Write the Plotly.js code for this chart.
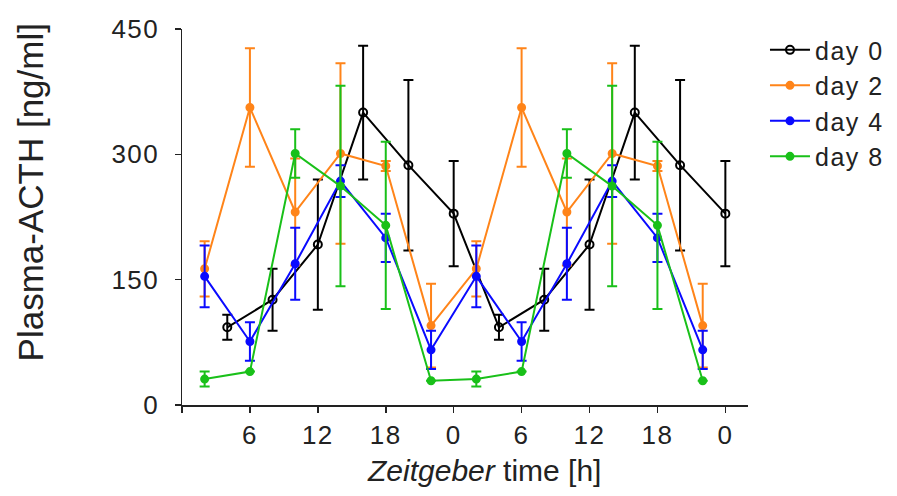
<!DOCTYPE html>
<html>
<head>
<meta charset="utf-8">
<script src="https://cdn.plot.ly/plotly-3.0.1.min.js"></script>
<style>
  html, body { margin: 0; padding: 0; background: #fff; }
  #chart { width: 897px; height: 496px; }
  /* slightly wider lettering for tick labels and legend entries */
  #chart .xtick text, #chart .ytick text, #chart text.legendtext { letter-spacing: 1.5px; }
</style>
</head>
<body>
<div id="chart"></div>
<script>
// Plasma ACTH over Zeitgeber time, double-plotted (two consecutive cycles)
const tickVals = [0, 6, 12, 18, 24, 30, 36, 42, 48];
const tickText = ['', '6', '12', '18', '0', '6', '12', '18', '0'];
const yTickVals = [0, 150, 300, 450];

// day 0
const day0Time = [4, 8, 12, 16, 20, 24, 28, 32, 36, 40, 44, 48];
const day0Mean = [93, 126, 192, 350, 287, 229, 93, 126, 192, 350, 287, 229];
const day0Err  = [15, 37, 78, 80, 102, 63, 15, 37, 78, 80, 102, 63];

// day 2
const day2Time = [2, 6, 10, 14, 18, 22, 26, 30, 34, 38, 42, 46];
const day2Mean = [163, 356, 231, 301, 286, 95, 163, 356, 231, 301, 286, 95];
const day2Err  = [33, 71, 64, 108, 6, 50, 33, 71, 64, 108, 6, 50];

// day 4
const day4Time = [2, 6, 10, 14, 18, 22, 26, 30, 34, 38, 42, 46];
const day4Mean = [154, 76, 169, 268, 200, 66, 154, 76, 169, 268, 200, 66];
const day4Err  = [37, 23, 43, 19, 29, 23, 37, 23, 43, 19, 29, 23];

// day 8
const day8Time = [2, 6, 10, 14, 18, 22, 26, 30, 34, 38, 42, 46];
const day8Mean = [31, 40, 301, 262, 215, 29, 31, 40, 301, 262, 215, 29];
const day8Err  = [9, 0, 29, 120, 100, 0, 9, 0, 29, 120, 100, 0];

const FONT = 'Liberation Sans, Arial, sans-serif';
const TEXT = '#222';

function series(name, x, y, err, color, symbol) {
  return {
    type: 'scatter', mode: 'lines+markers', name: name,
    x: x, y: y,
    line: { color: color, width: 2 },
    marker: {
      color: color, size: symbol === 'circle-open' ? 8 : 7, symbol: symbol,
      line: { color: color, width: 2 }
    },
    error_y: { type: 'data', array: err, visible: true, color: color, thickness: 2, width: 5 }
  };
}

const traces = [
  series('day 0', day0Time, day0Mean, day0Err, '#000000', 'circle-open'),
  series('day 2', day2Time, day2Mean, day2Err, '#ff8419', 'circle'),
  series('day 4', day4Time, day4Mean, day4Err, '#0a0aff', 'circle'),
  series('day 8', day8Time, day8Mean, day8Err, '#19c019', 'circle')
];

const layout = {
  width: 897, height: 496,
  margin: { l: 182, r: 149, t: 29, b: 91 },
  paper_bgcolor: '#fff', plot_bgcolor: '#fff',
  font: { family: FONT, color: TEXT, size: 26 },
  showlegend: true,
  legend: {
    x: 1.03, xanchor: 'left', y: 1.005, yanchor: 'top',
    font: { family: FONT, size: 25, color: TEXT },
    bgcolor: 'rgba(0,0,0,0)', itemwidth: 40, tracegroupgap: 0
  },
  xaxis: {
    range: [0, 50], tickvals: tickVals, ticktext: tickText,
    showgrid: false, zeroline: false,
    showline: true, linecolor: TEXT, linewidth: 1.5,
    ticks: 'outside', ticklen: 6, tickwidth: 1.5, tickcolor: TEXT,
    tickfont: { family: FONT, size: 26, color: TEXT }
  },
  yaxis: {
    range: [0, 450], tickvals: yTickVals,
    showgrid: false, zeroline: false,
    showline: true, linecolor: TEXT, linewidth: 1.5,
    ticks: 'outside', ticklen: 6, tickwidth: 1.5, tickcolor: TEXT,
    ticklabelstandoff: 10,
    tickfont: { family: FONT, size: 26, color: TEXT }
  },
  annotations: [
    {
      text: '<i>Zeitgeber</i> time [h]', xref: 'paper', yref: 'paper',
      x: 0.533, y: -0.173, xanchor: 'center', yanchor: 'middle', showarrow: false,
      font: { family: FONT, size: 30, color: TEXT }
    },
    {
      text: 'Plasma-ACTH [ng/ml]', xref: 'paper', yref: 'paper', textangle: -90,
      x: -0.267, y: 0.565, xanchor: 'center', yanchor: 'middle', showarrow: false,
      font: { family: FONT, size: 35, color: TEXT }
    }
  ]
};

Plotly.newPlot('chart', traces, layout, { displayModeBar: false, staticPlot: true });
</script>
</body>
</html>
